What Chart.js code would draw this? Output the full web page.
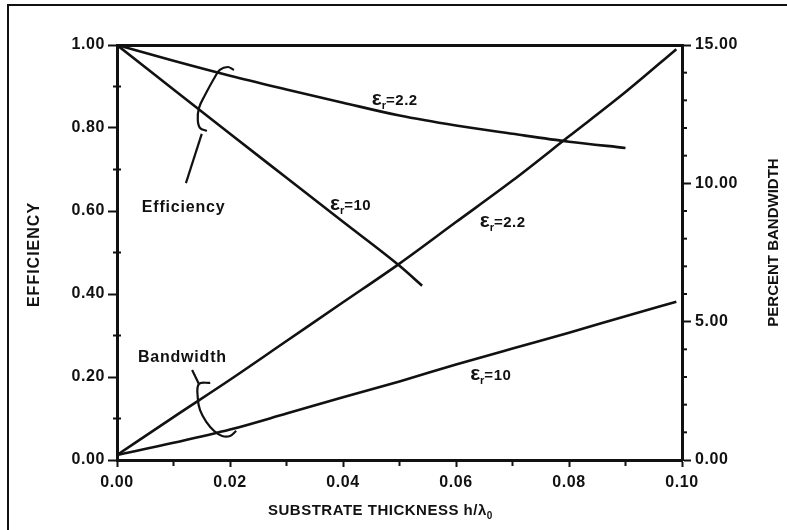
<!DOCTYPE html>
<html>
<head>
<meta charset="utf-8">
<script src="https://cdn.jsdelivr.net/npm/chart.js@4"></script>
<style>
html,body{margin:0;padding:0;background:#fff;overflow:hidden;}
#wrap{position:relative;width:787px;height:530px;}
#frame{position:absolute;left:7px;top:4px;width:800px;height:540px;border-left:2px solid #111;border-top:2px solid #111;pointer-events:none;}
canvas{display:block;}
</style>
</head>
<body>
<div id="wrap"><canvas id="c" width="787" height="530" style="width:787px;height:530px"></canvas><div id="frame"></div></div>
<script>
// ---- data ----
const effX22 = [0, 0.01, 0.02, 0.03, 0.04, 0.05, 0.06, 0.07, 0.08, 0.09];
const effEr22 = [1.00, 0.962, 0.926, 0.893, 0.861, 0.830, 0.806, 0.786, 0.767, 0.752];
const effX10 = [0, 0.01, 0.02, 0.03, 0.04, 0.05, 0.054];
const effEr10 = [1.00, 0.893, 0.786, 0.680, 0.574, 0.468, 0.420];
const bwX = [0, 0.01, 0.02, 0.03, 0.04, 0.05, 0.06, 0.07, 0.08, 0.09, 0.099];
const bwEr22 = [0.18, 1.55, 2.9, 4.3, 5.7, 7.1, 8.6, 10.1, 11.7, 13.3, 14.85];
const bwEr10 = [0.18, 0.62, 1.1, 1.68, 2.27, 2.84, 3.45, 4.03, 4.6, 5.2, 5.72];

// brace marks (data units of thickness / efficiency axis)
const effBraceX = [0.0207, 0.0196, 0.0182, 0.0172, 0.0156, 0.0145, 0.0143, 0.0147, 0.0159];
const effBraceY = [0.940, 0.947, 0.940, 0.920, 0.880, 0.848, 0.819, 0.800, 0.793];
const effLeadX = [0.0150, 0.0122];
const effLeadY = [0.786, 0.667];
const bwBraceX = [0.0165, 0.0145, 0.0143, 0.0147, 0.0158, 0.0172, 0.0186, 0.0200, 0.0211];
const bwBraceY = [0.186, 0.183, 0.149, 0.120, 0.092, 0.070, 0.058, 0.058, 0.070];
const bwLeadX = [0.0133, 0.0145];
const bwLeadY = [0.217, 0.183];

// tick labels
const xTicks = [0, 0.02, 0.04, 0.06, 0.08, 0.10];
const yTicks = [0, 0.2, 0.4, 0.6, 0.8, 1.0];
const y2Ticks = [0, 5, 10, 15];
const xMinorTicks = [0.01, 0.03, 0.05, 0.07, 0.09];
const yMinorTicks = [0.1, 0.3, 0.5, 0.7, 0.9];
const y2MinorTicks = [1, 2, 3, 4, 6, 7, 8, 9, 11, 12, 13, 14];

// curve labels (ε_r = value), anchored in data units (left edge, baseline)
const epsLabelValue = ['2.2', '10', '2.2', '10'];
const epsLabelX = [0.0451, 0.0377, 0.0642, 0.0625];
const epsLabelY = [0.855, 0.602, 0.561, 0.193];
// group labels
const groupLabelText = ['Efficiency', 'Bandwidth'];
const groupLabelX = [0.0044, 0.0037];
const groupLabelY = [0.598, 0.236];

const xTitle = 'SUBSTRATE THICKNESS h/λ';
const xTitleSub = '0';
const yTitle = 'EFFICIENCY';
const y2Title = 'PERCENT BANDWIDTH';

// ---- build ----
const pts = (xs, ys) => xs.map((v, i) => ({x: v, y: ys[i]}));
const F = "'Liberation Sans', Arial, sans-serif";
const INK = '#111';

const curve = (data, axis) => ({data, yAxisID: axis, xAxisID: 'x', showLine: true, borderColor: INK,
  borderWidth: 2.6, pointRadius: 0, cubicInterpolationMode: 'monotone', fill: false});
const mark = (data, tension) => ({data, yAxisID: 'y', xAxisID: 'x', showLine: true, borderColor: INK,
  borderWidth: 2.2, pointRadius: 0, tension: tension, fill: false});

const tickFont = {family: F, size: 16, weight: 'bold'};

const decor = {
  id: 'decor',
  beforeDraw(chart) { chart.ctx.letterSpacing = '0.6px'; },
  afterDraw(chart) {
    const ctx = chart.ctx, ca = chart.chartArea;
    const sx = chart.scales.x, sy = chart.scales.y, sy2 = chart.scales.y2;
    ctx.save();
    ctx.letterSpacing = '0px';
    ctx.strokeStyle = INK; ctx.lineWidth = 2;
    const seg = (a, b, c, d) => { ctx.beginPath(); ctx.moveTo(a, b); ctx.lineTo(c, d); ctx.stroke(); };
    xMinorTicks.forEach(v => { const p = sx.getPixelForValue(v); seg(p, ca.bottom, p, ca.bottom + 6); });
    yMinorTicks.forEach(v => { const p = sy.getPixelForValue(v); seg(ca.left - 4, p, ca.left + 4, p); });
    y2MinorTicks.forEach(v => { const p = sy2.getPixelForValue(v); seg(ca.right, p, ca.right + 5, p); });

    ctx.fillStyle = INK;
    ctx.textBaseline = 'alphabetic';
    ctx.textAlign = 'left';
    // ε_r labels
    epsLabelValue.forEach((val, i) => {
      let px = sx.getPixelForValue(epsLabelX[i]);
      const py = sy.getPixelForValue(epsLabelY[i]);
      ctx.letterSpacing = '0px';
      ctx.font = 'bold 21px ' + F;
      ctx.fillText('ε', px, py);
      px += ctx.measureText('ε').width;
      ctx.font = 'bold 11px ' + F;
      ctx.fillText('r', px, py + 4);
      px += ctx.measureText('r').width;
      ctx.letterSpacing = '0.5px';
      ctx.font = 'bold 15px ' + F;
      ctx.fillText('=' + val, px, py);
    });
    // group labels
    ctx.letterSpacing = '0.8px';
    ctx.font = 'bold 16px ' + F;
    groupLabelText.forEach((t, i) => {
      ctx.fillText(t, sx.getPixelForValue(groupLabelX[i]), sy.getPixelForValue(groupLabelY[i]));
    });

    // x title with subscript
    ctx.letterSpacing = '0.5px';
    ctx.font = 'bold 15px ' + F;
    const tx = ca.left + 151, ty = ca.bottom + 55;
    ctx.fillText(xTitle, tx, ty);
    const w = ctx.measureText(xTitle).width;
    ctx.font = 'bold 10px ' + F;
    ctx.fillText(xTitleSub, tx + w, ty + 4);

    // left title
    ctx.textAlign = 'center'; ctx.textBaseline = 'middle';
    ctx.save();
    ctx.translate(35, (ca.top + ca.bottom) / 2 + 2);
    ctx.rotate(-Math.PI / 2);
    ctx.letterSpacing = '1px';
    ctx.font = 'bold 16px ' + F;
    ctx.fillText(yTitle, 0, 0);
    ctx.restore();
    // right title (reads bottom to top)
    ctx.save();
    ctx.translate(ca.right + 92, (ca.top + ca.bottom) / 2 - 10);
    ctx.rotate(-Math.PI / 2);
    ctx.letterSpacing = '0px';
    ctx.font = 'bold 15px ' + F;
    ctx.fillText(y2Title, 0, 0);
    ctx.restore();
    ctx.restore();
  }
};

new Chart(document.getElementById('c'), {
  type: 'scatter',
  data: {
    datasets: [
      curve(pts(effX22, effEr22), 'y'),
      curve(pts(effX10, effEr10), 'y'),
      curve(pts(bwX, bwEr22), 'y2'),
      curve(pts(bwX, bwEr10), 'y2'),
      mark(pts(effBraceX, effBraceY), 0.4),
      mark(pts(effLeadX, effLeadY), 0),
      mark(pts(bwBraceX, bwBraceY), 0.4),
      mark(pts(bwLeadX, bwLeadY), 0)
    ]
  },
  options: {
    responsive: false,
    animation: false,
    layout: {padding: 0},
    plugins: {legend: {display: false}, tooltip: {enabled: false}},
    scales: {
      x: {
        type: 'linear', position: 'bottom', min: 0, max: 0.1,
        afterFit: s => { s.height = 70; },
        afterBuildTicks: s => { s.ticks = xTicks.map(v => ({value: v})); },
        ticks: {callback: v => v.toFixed(2), color: INK, font: tickFont, padding: 6, maxRotation: 0, autoSkip: false},
        grid: {display: true, drawOnChartArea: false, drawTicks: true, tickLength: 7, tickWidth: 2, color: INK},
        border: {display: true, width: 3, color: INK}
      },
      xTop: {
        type: 'linear', position: 'top', min: 0, max: 0.1,
        afterFit: s => { s.height = 45; },
        ticks: {display: false},
        grid: {display: false, drawTicks: false},
        border: {display: true, width: 3, color: INK}
      },
      y: {
        type: 'linear', position: 'left', min: 0, max: 1,
        afterFit: s => { s.width = 117; },
        afterBuildTicks: s => { s.ticks = yTicks.map(v => ({value: v})); },
        ticks: {callback: v => v.toFixed(2), color: INK, font: tickFont, padding: 3},
        grid: {display: true, drawOnChartArea: false, drawTicks: true, tickLength: 9, tickWidth: 2, color: INK},
        border: {display: true, width: 3, color: INK}
      },
      y2: {
        type: 'linear', position: 'right', min: 0, max: 15,
        afterFit: s => { s.width = 105; },
        afterBuildTicks: s => { s.ticks = y2Ticks.map(v => ({value: v})); },
        ticks: {callback: v => v.toFixed(2), color: INK, font: tickFont, padding: 4},
        grid: {display: true, drawOnChartArea: false, drawTicks: true, tickLength: 9, tickWidth: 2, color: INK},
        border: {display: true, width: 3, color: INK}
      }
    }
  },
  plugins: [decor]
});
</script>
</body>
</html>
